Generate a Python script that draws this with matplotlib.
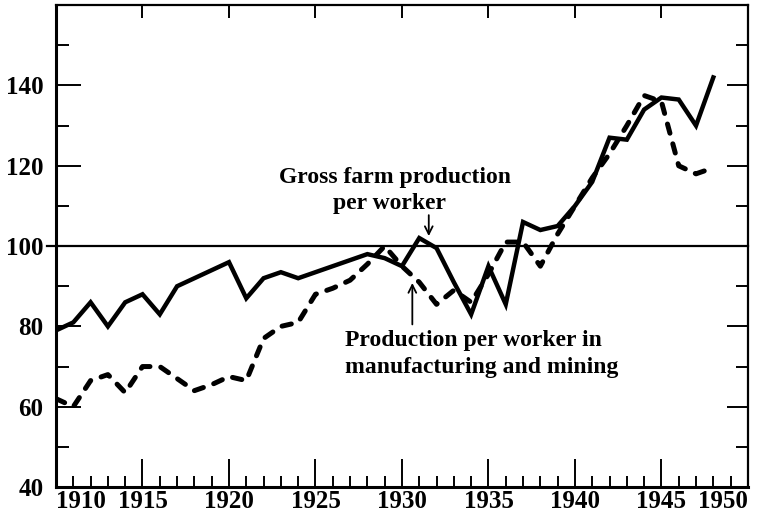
import matplotlib.pyplot as plt
from matplotlib.ticker import MultipleLocator

# Years shown on the chart
years = list(range(1910, 1949))

# Gross farm production per worker (solid line)
farm = [79, 81, 86, 80, 86, 88, 83, 90, 92, 94,
        96, 87, 92, 93.5, 92, 93.5, 95, 96.5, 98, 97,
        95, 102, 99.5, 91, 83, 95, 85.5, 106, 104, 105,
        110, 116, 127, 126.5, 134, 137, 136.5, 130, 142]

# Production per worker in manufacturing and mining (dashed line)
mfg = [62, 60, 66.5, 68, 63.5, 70, 70, 67, 64, 65.5,
       67.5, 66.5, 77, 80, 81, 88, 89.5, 91.5, 95.5, 100,
       95, 91, 85.5, 89, 86, 93, 101, 101, 95, 103,
       110, 117, 123, 130, 137.5, 136, 120, 118, 119.5]

x_ticks = [1910, 1915, 1920, 1925, 1930, 1935, 1940, 1945, 1950]
y_ticks = [40, 60, 80, 100, 120, 140]

plt.rcParams['font.family'] = ['Liberation Serif', 'DejaVu Serif']
plt.rcParams['font.weight'] = 'bold'

fig = plt.figure(figsize=(7.62, 5.17), dpi=100)
ax = fig.add_axes([0.0735, 0.058, 0.908, 0.932])

# Reference line at 100
ax.axhline(100, xmin=-0.013, xmax=1, color='black', lw=1.6, clip_on=False)

# The two series
ax.plot(years, farm, color='black', lw=3.2, solid_joinstyle='miter')
ax.plot(years, mfg, color='black', lw=3.6, linestyle=(0, (1.9, 2.2)),
        dash_capstyle='round')

ax.set_xlim(1910, 1950)
ax.set_ylim(40, 160)

# Frame
for side in ['left', 'bottom']:
    ax.spines[side].set_linewidth(2.2)
for side in ['top', 'right']:
    ax.spines[side].set_linewidth(1.6)

# Bottom ticks: long every 5 years, short every year, pointing inward
ax.set_xticks(x_ticks)
ax.xaxis.set_minor_locator(MultipleLocator(1))
ax.tick_params(axis='x', which='major', direction='in', length=20, width=1.4,
               labelsize=18, pad=2)
ax.tick_params(axis='x', which='minor', direction='in', length=8, width=1.4)

# Left ticks: long every 20, short every 10
ax.set_yticks(y_ticks)
ax.yaxis.set_minor_locator(MultipleLocator(10))
ax.tick_params(axis='y', which='major', direction='in', length=18, width=1.4,
               labelsize=18, pad=9)
ax.tick_params(axis='y', which='minor', direction='in', length=9, width=1.4)

# Shift the end labels so they sit inside the frame like the original
labels = ax.get_xticklabels()
labels[0].set_horizontalalignment('left')
labels[-1].set_horizontalalignment('right')

# Top ticks at every 5 years
top = ax.secondary_xaxis('top')
top.set_xticks(x_ticks[1:-1])
top.tick_params(direction='in', length=9, width=1.4, labeltop=False)
top.spines['top'].set_visible(False)

# Right ticks every 10
right = ax.secondary_yaxis('right')
right.set_yticks([60, 80, 100, 120, 140])
right.yaxis.set_minor_locator(MultipleLocator(10))
right.tick_params(which='major', direction='in', length=15, width=1.4,
                  labelright=False)
right.tick_params(which='minor', direction='in', length=9, width=1.4)
right.spines['right'].set_visible(False)

# Labels with arrows
ax.text(1929.6, 117.2, 'Gross farm production', ha='center', va='center',
        fontsize=17)
ax.text(1929.3, 110.6, 'per worker', ha='center', va='center', fontsize=17)
ax.annotate('', xy=(1931.55, 101.8), xytext=(1931.55, 108.4),
            arrowprops=dict(arrowstyle='->', color='black', lw=1.3,
                            mutation_scale=14))

ax.text(1926.7, 76.4, 'Production per worker in', ha='left', va='center',
        fontsize=17)
ax.text(1926.7, 69.7, 'manufacturing and mining', ha='left', va='center',
        fontsize=17)
ax.annotate('', xy=(1930.6, 91.5), xytext=(1930.6, 79.8),
            arrowprops=dict(arrowstyle='->', color='black', lw=1.3,
                            mutation_scale=14))

fig.savefig('out.png', dpi=100)
